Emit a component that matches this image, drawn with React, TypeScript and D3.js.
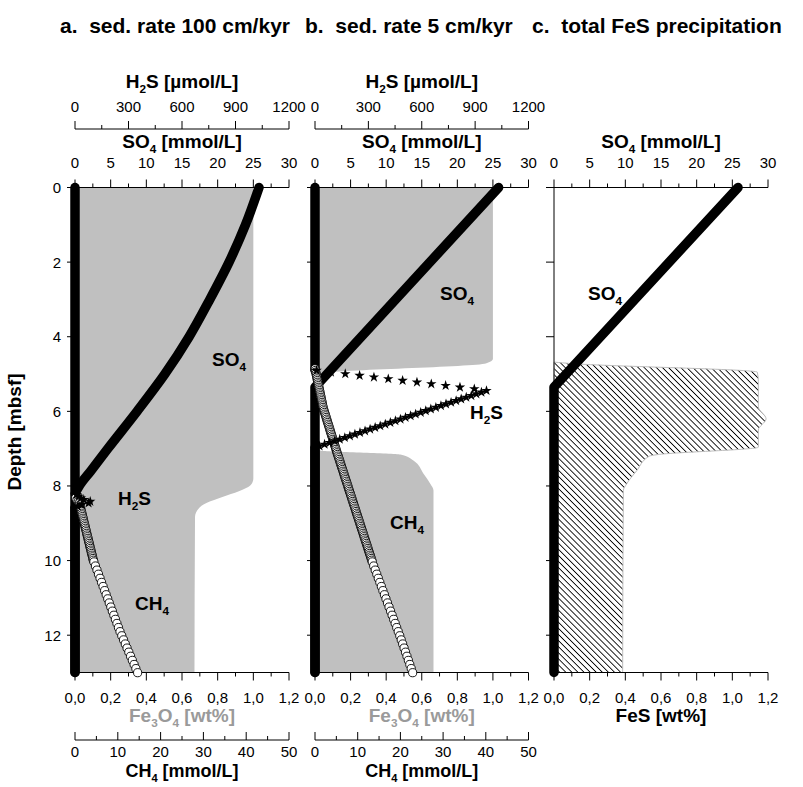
import React, { useEffect, useRef } from 'react';
import * as d3 from 'd3';

// axis ticks
const depthTicks = [0, 2, 4, 6, 8, 10, 12];
const so4Ticks = [0, 5, 10, 15, 20, 25, 30];
const h2sTicks = [0, 300, 600, 900, 1200];
const wtTicks = [0, 0.2, 0.4, 0.6, 0.8, 1.0, 1.2];
const ch4Ticks = [0, 10, 20, 30, 40, 50];

const panelTitles = ['a.  sed. rate 100 cm/kyr', 'b.  sed. rate 5 cm/kyr', 'c.  total FeS precipitation'];

// profiles: [depth (mbsf), value]
// a. sed. rate 100 cm/kyr
const so4A = [[0, 25.8], [1, 23.9], [2, 21.6], [3, 18.9], [4, 16.0], [5, 12.6], [6, 8.7], [7, 4.6], [7.6, 2.2], [8.0, 0.6], [8.25, 0], [13, 0]];
const h2sA = [[0, 0], [8.2, 0], [8.3, 25], [8.39, 56], [8.43, 103], [8.5, 40], [8.58, 0], [13, 0]];
const ch4A = [[8.3, 0], [8.45, 1.0], [10, 4.3], [11.9, 10.5], [13.05, 14.8]];
const fe3o4A = [[0, 1.0], [7.8, 1.0], [7.95, 0.99], [8.57, 0.7], [8.83, 0.673], [13, 0.67]];

// b. sed. rate 5 cm/kyr
const so4B = [[0, 25.8], [5.35, 0], [13, 0]];
const h2sB = [[0, 0], [4.9, 0], [5.44, 967], [6.97, 0], [13, 0]];
const ch4B = [[4.85, 0], [5.9, 1.9], [7.05, 5.0], [10.1, 13.6], [12.06, 20], [13.08, 23.1]];
const fe3o4B = [[0, 1.0], [4.6, 1.0], [4.72, 0.96], [4.98, 0.02], [5.0, 0], [6.98, 0], [7.05, 0.03], [7.16, 0.48], [7.32, 0.553], [7.67, 0.61], [7.94, 0.648], [8.12, 0.666], [13, 0.666]];

// c. total FeS precipitation
const so4C = [[0, 25.8], [5.35, 0], [13, 0]];
const fesC = [[4.68, 0], [4.72, 0.1], [4.95, 1.14], [5.2, 1.146], [5.88, 1.146], [6.2, 1.189], [6.5, 1.146], [6.96, 1.146], [7.16, 0.58], [7.2, 0.535], [7.59, 0.464], [7.94, 0.408], [8.12, 0.389], [13, 0.385]];

const FONT = "'Liberation Sans', Arial, Helvetica, sans-serif";
const Y0 = 187.5;
const Y1 = 672.5;
const panelX = [[75, 289], [315, 528.5], [554, 768]];

type Pt = number[];

// depth grid of the model output, finer above 10 m
function gridDepths(d0: number, d1: number) {
  const out: number[] = [];
  let d = 0;
  while (d <= d1 + 1e-9) {
    if (d >= d0 - 1e-9) out.push(d);
    d += d < 10 ? 0.045 : 0.11;
  }
  return out;
}

function richText(g: any, x: number, y: number, str: string, size: number, weight = 'normal', fill = '#000', anchor = 'middle') {
  const t = g.append('text')
    .attr('x', x).attr('y', y)
    .attr('font-family', FONT)
    .attr('font-size', size)
    .attr('font-weight', weight)
    .attr('fill', fill)
    .attr('text-anchor', anchor)
    .style('white-space', 'pre');
  const parts = str.split(/(_\d)/);
  let shifted = false;
  parts.forEach(p => {
    if (!p) return;
    if (p.startsWith('_')) {
      t.append('tspan').attr('dy', size * 0.28).attr('font-size', size * 0.62).text(p.slice(1));
      shifted = true;
    } else {
      const ts = t.append('tspan').text(p);
      if (shifted) { ts.attr('dy', -size * 0.28); shifted = false; }
    }
  });
  return t;
}

export default function App() {
  const svgRef = useRef<SVGSVGElement>(null);

  useEffect(() => {
    if (!svgRef.current) return;
    document.body.style.margin = '0';
    const svg = d3.select(svgRef.current);
    svg.selectAll('*').remove();

    // hatch for FeS
    const defs = svg.append('defs');
    const pat = defs.append('pattern')
      .attr('id', 'hatch')
      .attr('patternUnits', 'userSpaceOnUse')
      .attr('width', 4.3).attr('height', 4.3)
      .attr('patternTransform', 'rotate(-45)');
    pat.append('rect').attr('width', 4.3).attr('height', 4.3).attr('fill', '#fff');
    pat.append('line').attr('x1', 2.15).attr('x2', 2.15).attr('y1', 0).attr('y2', 4.3)
      .attr('stroke', '#000').attr('stroke-width', 0.9);

    const y = d3.scaleLinear().domain([0, 13]).range([Y0, Y1]);

    const panels = [
      { so4: so4A, h2s: h2sA, ch4: ch4A, solid: fe3o4A, solidLabel: 'Fe_3O_4 [wt%]', hatch: false,
        labels: [['SO_4', 212, 366], ['H_2S', 118, 505], ['CH_4', 135, 610]] },
      { so4: so4B, h2s: h2sB, ch4: ch4B, solid: fe3o4B, solidLabel: 'Fe_3O_4 [wt%]', hatch: false,
        labels: [['SO_4', 440, 300], ['H_2S', 470, 419], ['CH_4', 390, 529]] },
      { so4: so4C, h2s: null, ch4: null, solid: fesC, solidLabel: 'FeS [wt%]', hatch: true,
        labels: [['SO_4', 588, 300]] },
    ];

    panels.forEach((p, i) => {
      const [xa, xb] = panelX[i];
      const g = svg.append('g');
      const xSO4 = d3.scaleLinear().domain([0, 30]).range([xa, xb]);
      const xH2S = d3.scaleLinear().domain([0, 1200]).range([xa, xb]);
      const xWt = d3.scaleLinear().domain([0, 1.2]).range([xa, xb]);
      const xCH4 = d3.scaleLinear().domain([0, 50]).range([xa, xb]);

      // solid phase area
      const area = d3.area<Pt>()
        .y(d => y(d[0]))
        .x0(xWt(0))
        .x1(d => xWt(d[1]))
        .curve(d3.curveMonotoneY);
      g.append('path')
        .attr('d', area(p.solid as Pt[]))
        .attr('fill', p.hatch ? 'url(#hatch)' : '#c0c0c0')
        .attr('stroke', p.hatch ? '#bdbdbd' : 'none')
        .attr('stroke-width', 1);

      // main title
      richText(svg, [60, 305, 532][i], 33, panelTitles[i], 21, 'bold', '#000', 'start');

      const cx = (xa + xb) / 2;
      const mid = (t: number[]) => d3.pairs(t).map(([u, v]) => (u + v) / 2);

      // top SO4 axis
      g.append('line').attr('x1', xa).attr('x2', xb).attr('y1', Y0).attr('y2', Y0).attr('stroke', '#000');
      so4Ticks.forEach(t => {
        g.append('line').attr('x1', xSO4(t)).attr('x2', xSO4(t)).attr('y1', Y0).attr('y2', Y0 - 8).attr('stroke', '#000');
        richText(g, xSO4(t), 168, String(t), 15);
      });
      mid(so4Ticks).forEach(t => {
        g.append('line').attr('x1', xSO4(t)).attr('x2', xSO4(t)).attr('y1', Y0).attr('y2', Y0 - 4).attr('stroke', '#000');
      });
      richText(g, cx, 148, 'SO_4 [mmol/L]', 19, 'bold');

      // top H2S axis
      if (p.h2s) {
        const ya = 129;
        g.append('line').attr('x1', xa).attr('x2', xb).attr('y1', ya).attr('y2', ya).attr('stroke', '#000');
        h2sTicks.forEach(t => {
          g.append('line').attr('x1', xH2S(t)).attr('x2', xH2S(t)).attr('y1', ya).attr('y2', ya - 8).attr('stroke', '#000');
          richText(g, xH2S(t), 112, String(t), 15);
        });
        mid(h2sTicks).forEach(t => {
          g.append('line').attr('x1', xH2S(t)).attr('x2', xH2S(t)).attr('y1', ya).attr('y2', ya - 4).attr('stroke', '#000');
        });
        richText(g, cx, 88, 'H_2S [µmol/L]', 19, 'bold');
      }

      // bottom wt% axis
      g.append('line').attr('x1', xa).attr('x2', xb).attr('y1', Y1).attr('y2', Y1).attr('stroke', '#000');
      wtTicks.forEach(t => {
        g.append('line').attr('x1', xWt(t)).attr('x2', xWt(t)).attr('y1', Y1).attr('y2', Y1 + 8).attr('stroke', '#000');
        richText(g, xWt(t), 703, t.toFixed(1).replace('.', ','), 15);
      });
      mid(wtTicks).forEach(t => {
        g.append('line').attr('x1', xWt(t)).attr('x2', xWt(t)).attr('y1', Y1).attr('y2', Y1 + 4).attr('stroke', '#000');
      });
      richText(g, cx, 722, p.solidLabel, 19, 'bold', p.hatch ? '#000' : '#9a9a9a');

      // CH4 axis
      if (p.ch4) {
        const ya = 740;
        g.append('line').attr('x1', xa).attr('x2', xb).attr('y1', ya).attr('y2', ya).attr('stroke', '#000');
        ch4Ticks.forEach(t => {
          g.append('line').attr('x1', xCH4(t)).attr('x2', xCH4(t)).attr('y1', ya).attr('y2', ya - 8).attr('stroke', '#000');
          richText(g, xCH4(t), 757, String(t), 15);
        });
        mid(ch4Ticks).forEach(t => {
          g.append('line').attr('x1', xCH4(t)).attr('x2', xCH4(t)).attr('y1', ya).attr('y2', ya - 4).attr('stroke', '#000');
        });
        richText(g, cx, 777, 'CH_4 [mmol/L]', 18, 'bold');
      }

      // depth axis
      g.append('line').attr('x1', xa).attr('x2', xa).attr('y1', Y0).attr('y2', Y1).attr('stroke', '#000');
      depthTicks.forEach(t => {
        g.append('line').attr('x1', xa - 8).attr('x2', xa).attr('y1', y(t)).attr('y2', y(t)).attr('stroke', '#000');
        if (i === 0) richText(g, xa - 14, y(t) + 5.5, String(t), 15, 'normal', '#000', 'end');
      });

      // H2S zero runs: markers packed so densely that they read as a solid column
      if (p.h2s) {
        const s = p.h2s as Pt[];
        d3.pairs(s).filter(([u, v]) => u[1] === 0 && v[1] === 0).forEach(([u, v]) => {
          g.append('line')
            .attr('x1', xH2S(0)).attr('x2', xH2S(0))
            .attr('y1', y(u[0])).attr('y2', y(v[0]))
            .attr('stroke', '#000').attr('stroke-width', 9.5).attr('stroke-linecap', 'round');
        });
      }

      // SO4 thick profile
      const line = d3.line<Pt>()
        .x(d => xSO4(d[1]))
        .y(d => y(d[0]))
        .curve(i === 0 ? d3.curveMonotoneY : d3.curveLinear);
      g.append('path')
        .attr('d', line(p.so4 as Pt[]))
        .attr('fill', 'none')
        .attr('stroke', '#000')
        .attr('stroke-width', 9.5)
        .attr('stroke-linecap', 'round')
        .attr('stroke-linejoin', 'round');

      // CH4 open circles
      if (p.ch4) {
        const s = p.ch4 as Pt[];
        const f = d3.scaleLinear().domain(s.map(d => d[0])).range(s.map(d => d[1]));
        const pts = gridDepths(s[0][0], s[s.length - 1][0]);
        g.append('g').selectAll('circle')
          .data(pts)
          .enter()
          .append('circle')
          .attr('cx', d => xCH4(f(d)))
          .attr('cy', d => y(d))
          .attr('r', 4.1)
          .attr('fill', '#fff')
          .attr('stroke', '#000')
          .attr('stroke-width', 0.9);
      }

      // H2S stars
      if (p.h2s) {
        const s = p.h2s as Pt[];
        const f = d3.scaleLinear().domain(s.map(d => d[0])).range(s.map(d => d[1]));
        const pts = gridDepths(s[0][0], s[s.length - 1][0]).filter(d => f(d) > 0);
        const star = d3.symbol().type(d3.symbolStar).size(34)();
        g.append('g').selectAll('path')
          .data(pts)
          .enter()
          .append('path')
          .attr('d', star)
          .attr('transform', d => `translate(${xH2S(f(d))},${y(d)})`)
          .attr('fill', '#000');
      }

      // in-plot labels
      p.labels.forEach(([txt, lx, ly]) => {
        richText(g, lx as number, ly as number, txt as string, 19, 'bold', '#000', 'start');
      });
    });

    // depth title
    richText(svg, 0, 0, 'Depth [mbsf]', 19, 'bold')
      .attr('transform', 'translate(21,432) rotate(-90)');
  }, []);

  return (
    <svg
      ref={svgRef}
      width={803}
      height={787}
      style={{ display: 'block', background: '#fff' }}
    />
  );
}
